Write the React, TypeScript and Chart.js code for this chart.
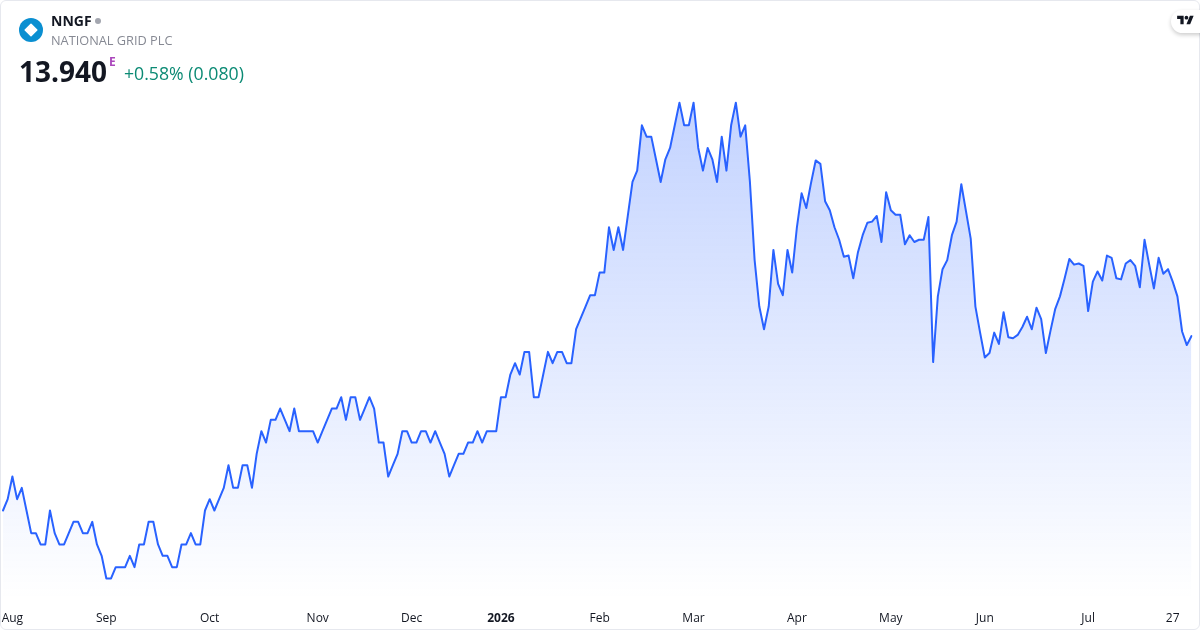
import React, { useEffect, useRef } from "react";
import { Chart, registerables } from "chart.js";

Chart.register(...registerables);

const prices2025: number[] = [
  12.4, 12.5, 12.7, 12.5, 12.6, 12.4, 12.2, 12.2, 12.1, 12.1,
  12.4, 12.2, 12.1, 12.1, 12.2, 12.3, 12.3, 12.2, 12.2, 12.3,
  12.1, 12.0, 11.8, 11.8, 11.9, 11.9, 11.9, 12.0, 11.9, 12.1,
  12.1, 12.3, 12.3, 12.1, 12.0, 12.0, 11.9, 11.9, 12.1, 12.1,
  12.2, 12.1, 12.1, 12.4, 12.5, 12.4, 12.5, 12.6, 12.8, 12.6,
  12.6, 12.8, 12.8, 12.6, 12.9, 13.1, 13.0, 13.2, 13.2, 13.3,
  13.2, 13.1, 13.3, 13.1, 13.1, 13.1, 13.1, 13.0, 13.1, 13.2,
  13.3, 13.3, 13.4, 13.2, 13.4, 13.4, 13.2, 13.3, 13.4, 13.3,
  13.0, 13.0, 12.7, 12.8, 12.9, 13.1, 13.1, 13.0, 13.0, 13.1,
  13.1, 13.0, 13.1, 13.0, 12.9, 12.7, 12.8, 12.9, 12.9, 13.0,
  13.0, 13.1, 13.0, 13.1, 13.1, 13.1,
];
const prices2026a: number[] = [
  13.4, 13.4, 13.6, 13.7, 13.6, 13.8, 13.8, 13.4, 13.4, 13.6,
  13.8, 13.7, 13.8, 13.8, 13.7, 13.7, 14.0, 14.1, 14.2, 14.3,
  14.3, 14.5, 14.5, 14.9, 14.7, 14.9, 14.7, 15.0, 15.3, 15.4,
  15.8, 15.7, 15.7, 15.5, 15.3, 15.5, 15.6, 15.8, 16.0, 15.8,
  15.8, 16.0, 15.6, 15.4, 15.6, 15.5, 15.3, 15.7, 15.4, 15.8,
  16.0, 15.7, 15.8, 15.3, 14.61, 14.2, 14.0, 14.2, 14.7, 14.4,
  14.3, 14.7, 14.5, 14.9, 15.2, 15.07, 15.29, 15.49, 15.46, 15.13,
  15.05, 14.9, 14.79, 14.64, 14.65, 14.45, 14.68, 14.83, 14.94, 14.95,
  15.0,
];
const prices2026b: number[] = [
  14.77, 15.21, 15.05, 15.01, 15.01, 14.75, 14.83, 14.77, 14.79, 14.79,
  14.99, 13.71, 14.29, 14.53, 14.61, 14.83, 14.95, 15.28, 15.04, 14.8,
  14.2, 13.97, 13.75, 13.79, 13.97, 13.87, 14.15, 13.93, 13.92, 13.95,
  14.02, 14.11, 14.0, 14.19, 14.09, 13.79, 13.99, 14.18, 14.29, 14.45,
  14.62, 14.57, 14.58, 14.56, 14.16, 14.42, 14.51, 14.43, 14.65, 14.63,
  14.45, 14.44, 14.58, 14.61, 14.56, 14.37, 14.79, 14.57, 14.36, 14.63,
  14.49, 14.53, 14.42, 14.29, 13.98, 13.86, 13.94,
];
const prices: number[] = [...prices2025, ...prices2026a, ...prices2026b];

const tickLabels: string[] = ["Aug", "Sep", "Oct", "Nov", "Dec", "2026", "Feb", "Mar", "Apr", "May", "Jun", "Jul", "27"];
const tickSessions: number[] = [2, 22, 44, 67, 87, 106, 127, 147, 169, 189, 209, 231, 249];
const categories: string[] = prices.map((_, i) => {
  const at = tickSessions.indexOf(i);
  return at >= 0 ? tickLabels[at] : "";
});

const FONT = '"Open Sans", "Noto Sans", sans-serif';
const LINE = "#2962ff";

export default function App() {
  const ref = useRef<HTMLCanvasElement | null>(null);

  useEffect(() => {
    document.body.style.margin = "0";
    const canvas = ref.current;
    if (!canvas) return;
    const chart = new Chart(canvas, {
      type: "line",
      data: {
        labels: categories,
        datasets: [
          {
            data: prices,
            borderColor: LINE,
            borderWidth: 2,
            borderJoinStyle: "round",
            borderCapStyle: "round",
            tension: 0,
            pointRadius: 0,
            pointHoverRadius: 0,
            fill: "start",
            backgroundColor: (ctx: any) => {
              const area = ctx.chart.chartArea;
              if (!area) return "rgba(41,98,255,0.2)";
              const g = ctx.chart.ctx.createLinearGradient(0, 102, 0, area.bottom);
              g.addColorStop(0, "rgba(41,98,255,0.28)");
              g.addColorStop(1, "rgba(41,98,255,0)");
              return g;
            },
          },
        ],
      },
      options: {
        responsive: false,
        animation: false,
        layout: { autoPadding: false, padding: { left: 2.4, right: 8.5, top: 0, bottom: 0 } },
        plugins: { legend: { display: false }, tooltip: { enabled: false } },
        scales: {
          x: {
            type: "category",
            offset: false,
            grid: { display: false },
            border: { display: false },
            afterFit: (s: any) => {
              s.height = 30;
            },
            ticks: {
              autoSkip: false,
              minRotation: 0,
              maxRotation: 0,
              padding: 3,
              color: "#131722",
              font: (ctx: any) => ({
                family: FONT,
                size: 12,
                weight: ctx.tick && ctx.tick.label === "2026" ? "bold" : "normal",
              }),
              callback: (_v: any, i: number) => categories[i],
            },
          },
          y: { display: false, min: 11.61, max: 16.906 },
        },
      },
    } as any);
    return () => chart.destroy();
  }, []);

  const abs = (style: React.CSSProperties): React.CSSProperties => ({
    position: "absolute",
    fontFamily: FONT,
    whiteSpace: "nowrap",
    lineHeight: 1,
    ...style,
  });

  return (
    <div style={{ position: "relative", width: 1200, height: 630, overflow: "hidden", background: "#fff" }}>
      <canvas ref={ref} width={1200} height={630} style={{ display: "block" }} />
      <div
        style={{
          position: "absolute",
          inset: 0,
          boxSizing: "border-box",
          border: "1px solid #e6e8ee",
          borderRadius: 6,
          pointerEvents: "none",
        }}
      />
      <svg width={24} height={24} viewBox="0 0 24 24" style={{ position: "absolute", left: 19, top: 18 }}>
        <circle cx={12} cy={12} r={12} fill="#0a8fd1" />
        <path d="M12 6.2 L17.8 12 L12 17.8 L6.2 12 Z" fill="#fff" stroke="#fff" strokeWidth={1.5} strokeLinejoin="round" />
      </svg>
      <div style={abs({ left: 51, top: 14, fontSize: 14, fontWeight: 700, color: "#131722" })}>NNGF</div>
      <div style={{ position: "absolute", left: 95, top: 18, width: 6, height: 6, borderRadius: 3, background: "#a3a6af" }} />
      <div style={abs({ left: 51, top: 34, fontSize: 12.75, color: "#868993" })}>NATIONAL GRID PLC</div>
      <div style={abs({ left: 19, top: 57, fontSize: 28, fontWeight: 700, color: "#131722" })}>13.940</div>
      <div style={abs({ left: 109, top: 56, fontSize: 12, fontWeight: 700, color: "#ab47bc" })}>E</div>
      <div style={abs({ left: 124, top: 65, fontSize: 17.7, color: "#0b8a74" })}>+0.58% (0.080)</div>
      <div
        style={{
          position: "absolute",
          left: 1171,
          top: 10,
          width: 40,
          height: 23,
          borderRadius: 12,
          background: "#fff",
          boxShadow: "0 2px 4px rgba(0,0,0,0.2)",
        }}
      />
      <svg width={17} height={13} viewBox="0 0 36 28" style={{ position: "absolute", left: 1177, top: 14 }}>
        <path d="M14 22H7V11H0V4h14v18zM28 22h-8l7.5-18h8L28 22z" fill="#131722" />
        <circle cx={20} cy={8} r={4} fill="#131722" />
      </svg>
    </div>
  );
}
